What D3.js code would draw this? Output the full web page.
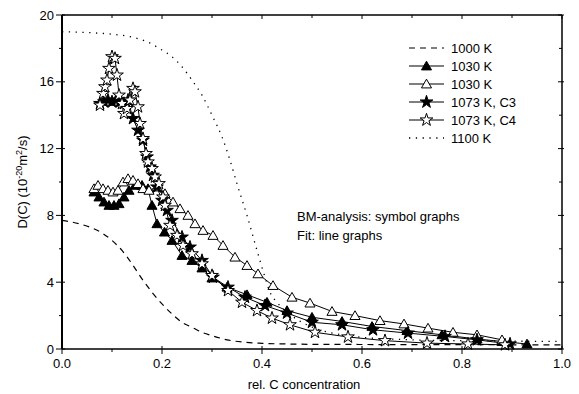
<!DOCTYPE html>
<html><head><meta charset="utf-8">
<script src="https://cdn.jsdelivr.net/npm/d3@7"></script>
<style>body{margin:0;background:#fff}svg{display:block;font-family:"Liberation Sans",Arial,sans-serif}</style>
</head><body><svg id="c" width="579" height="394"></svg>
<script>
// ---- data ----
const xTicks = [0.0,0.2,0.4,0.6,0.8,1.0];
const yTicks = [0,4,8,12,16,20];

const fit1000x = [0,0.02,0.04,0.06,0.08,0.1,0.12,0.14,0.16,0.18,0.2,0.22,0.24,0.26,0.28,0.3,0.33,0.36,0.4,0.45,0.5,0.6,0.7,0.8,0.9,1.0];
const fit1000y = [7.7,7.6,7.45,7.25,6.95,6.5,5.9,5.1,4.2,3.4,2.7,2.1,1.6,1.3,1.0,0.8,0.55,0.42,0.34,0.3,0.28,0.27,0.26,0.26,0.25,0.25];

const fit1100x = [0,0.05,0.1,0.136,0.17,0.2,0.22,0.24,0.26,0.28,0.3,0.32,0.336,0.352,0.37,0.39,0.406,0.416,0.43,0.45,0.48,0.52,0.56,0.6,0.7,0.8,0.9,1.0];
const fit1100y = [19,18.95,18.85,18.7,18.4,17.9,17.5,16.9,16.1,15.2,14.0,12.7,11.3,9.7,8.0,5.9,4.3,3.4,2.8,2.2,1.6,1.1,0.85,0.7,0.55,0.5,0.47,0.45];

const tri1x = [0.064,0.074,0.084,0.094,0.104,0.114,0.124,0.134,0.146,0.160,0.172,0.18,0.19,0.205,0.22,0.24,0.26,0.28,0.30,0.33,0.37,0.41,0.45,0.50,0.56,0.62,0.69,0.76,0.83,0.88,0.93];
const tri1y = [9.4,9.1,8.8,8.6,8.6,8.7,9.1,9.5,9.8,9.8,9.6,8.6,7.5,7.0,6.5,5.6,5.3,4.85,4.25,3.7,3.25,2.8,2.3,1.9,1.65,1.35,1.1,0.85,0.6,0.45,0.3];

const tri2x = [0.064,0.072,0.082,0.092,0.102,0.112,0.122,0.132,0.142,0.152,0.162,0.174,0.19,0.206,0.222,0.236,0.252,0.266,0.282,0.302,0.322,0.346,0.37,0.392,0.422,0.46,0.496,0.54,0.586,0.636,0.684,0.732,0.782,0.83,0.88];
const tri2y = [9.6,9.8,9.6,9.5,9.4,9.5,10.0,10.2,10.1,9.9,9.6,9.5,9.7,9.3,8.8,8.4,8.0,7.5,7.1,6.8,6.2,5.5,5.0,4.5,3.8,3.1,2.75,2.25,2.0,1.7,1.5,1.25,1.0,0.85,0.55];

const star3x = [0.076,0.084,0.092,0.1,0.108,0.116,0.124,0.132,0.142,0.152,0.162,0.17,0.176,0.182,0.19,0.2,0.21,0.22,0.24,0.256,0.28,0.302,0.332,0.366,0.406,0.45,0.5,0.56,0.622,0.692,0.766,0.83,0.896];
const star3y = [14.7,14.8,14.9,14.8,14.9,14.8,14.7,14.9,13.8,13.1,12.5,11.5,10.9,10.4,9.7,8.9,8.3,7.7,6.7,6.1,5.3,4.3,3.7,3.1,2.6,2.15,1.6,1.45,1.15,0.95,0.75,0.55,0.3];

const star4x = [0.076,0.082,0.086,0.09,0.094,0.1,0.106,0.11,0.114,0.12,0.124,0.13,0.136,0.142,0.146,0.152,0.156,0.162,0.168,0.172,0.18,0.186,0.194,0.202,0.206,0.216,0.23,0.242,0.26,0.28,0.30,0.332,0.36,0.39,0.42,0.456,0.506,0.572,0.646,0.73,0.812,0.886];
const star4y = [14.6,15.3,15.7,16.1,16.8,17.5,17.4,16.4,15.2,14.7,14.1,14.4,14.9,15.6,15.4,14.5,13.5,12.6,11.7,11.2,10.8,10.3,9.9,9.1,8.6,7.4,6.8,6.2,5.7,5.1,4.4,3.5,2.8,2.3,1.85,1.45,1.0,0.72,0.5,0.35,0.3,0.25];

const legendLabels = ["1000 K","1030 K","1030 K","1073 K, C3","1073 K, C4","1100 K"];

// ---- layout ----
const svg = d3.select("#c");
const L=62, R=562, T=15, B=349;
const x = d3.scaleLinear().domain([0,1]).range([L,R]);
const y = d3.scaleLinear().domain([0,20]).range([B,T]);

const zip = (xs,ys)=>xs.map((v,i)=>[v,ys[i]]);
const line = d3.line().x(d=>x(d[0])).y(d=>y(d[1]));
const sline = d3.line().x(d=>x(d[0])).y(d=>y(d[1])).curve(d3.curveMonotoneX);

// fits
svg.append("path").attr("d",sline(zip(fit1000x,fit1000y))).attr("fill","none").attr("stroke","#000").attr("stroke-width",1.2).attr("stroke-dasharray","6,5");
svg.append("path").attr("d",sline(zip(fit1100x,fit1100y))).attr("fill","none").attr("stroke","#000").attr("stroke-width",1.3).attr("stroke-dasharray","1.3,5.5");

const triSym = d3.symbol().type(d3.symbolTriangle).size(44);
const starSym = d3.symbol().type(d3.symbolStar).size(50);

const series = [
  {xs:tri1x, ys:tri1y, sym:triSym, fill:"#000"},
  {xs:tri2x, ys:tri2y, sym:triSym, fill:"#fff"},
  {xs:star3x, ys:star3y, sym:starSym, fill:"#000"},
  {xs:star4x, ys:star4y, sym:starSym, fill:"#fff"},
];
series.forEach(s=>{
  const pts = zip(s.xs,s.ys);
  svg.append("path").attr("d",line(pts)).attr("fill","none").attr("stroke","#000").attr("stroke-width",1);
});
series.forEach(s=>{
  const pts = zip(s.xs,s.ys);
  svg.append("g").selectAll("path").data(pts).join("path")
    .attr("transform",d=>`translate(${x(d[0])},${y(d[1])+ (s.sym===triSym?1:0)})`)
    .attr("d",s.sym()).attr("fill",s.fill).attr("stroke","#000").attr("stroke-width",1);
});

// axes
const ax = svg.append("g").attr("stroke","#000");
ax.append("line").attr("x1",L).attr("x2",L).attr("y1",T).attr("y2",B).attr("stroke-width",2);
ax.append("line").attr("x1",L).attr("x2",R).attr("y1",B).attr("y2",B).attr("stroke-width",1.5);
ax.append("line").attr("x1",L).attr("x2",R).attr("y1",T).attr("y2",T).attr("stroke-width",1.5);
ax.append("line").attr("x1",R).attr("x2",R).attr("y1",T).attr("y2",B).attr("stroke-width",1.5);

const xMinor = d3.range(0,1.0001,0.1);
const yMinor = d3.range(0,20.001,2);
xMinor.forEach((v,i)=>{
  const major = i%2===0;
  ax.append("line").attr("x1",x(v)).attr("x2",x(v)).attr("y1",B-(major?3:0)).attr("y2",B+(major?5:3)).attr("stroke-width",1);
  ax.append("line").attr("x1",x(v)).attr("x2",x(v)).attr("y1",T).attr("y2",T+(major?4:3)).attr("stroke-width",1);
});
yMinor.forEach((v,i)=>{
  const major = i%2===0;
  ax.append("line").attr("x1",L-(major?6:3)).attr("x2",L+(major?3:0)).attr("y1",y(v)).attr("y2",y(v)).attr("stroke-width",1);
  ax.append("line").attr("x1",R-(major?4:3)).attr("x2",R+(major?2:0)).attr("y1",y(v)).attr("y2",y(v)).attr("stroke-width",1);
});

svg.append("g").selectAll("text").data(xTicks).join("text")
  .attr("x",d=>x(d)).attr("y",B+19).attr("text-anchor","middle").attr("font-size",13).text(d=>d.toFixed(1));
svg.append("g").selectAll("text").data(yTicks).join("text")
  .attr("x",L-8).attr("y",d=>y(d)+4.5).attr("text-anchor","end").attr("font-size",13).text(d=>d);

svg.append("text").attr("x",(L+R)/2+(-8)).attr("y",389).attr("text-anchor","middle").attr("font-size",13).text("rel. C concentration");

const yl = svg.append("text").attr("transform",`translate(27,${(T+B)/2}) rotate(-90)`).attr("text-anchor","middle").attr("font-size",13);
yl.append("tspan").text("D(C) (10");
yl.append("tspan").attr("dy",-5).attr("font-size",9).text("-20");
yl.append("tspan").attr("dy",5).text("m");
yl.append("tspan").attr("dy",-5).attr("font-size",9).text("2");
yl.append("tspan").attr("dy",5).text("/s)");

// annotation
svg.append("text").attr("x",297).attr("y",221).attr("font-size",13).text("BM-analysis: symbol graphs");
svg.append("text").attr("x",297).attr("y",240).attr("font-size",13).text("Fit: line graphs");

// legend
const lg = svg.append("g");
const ly0 = 48, ldy = 18, lx1 = 409, lx2 = 447;
legendLabels.forEach((lab,i)=>{
  const yy = ly0 + i*ldy;
  const ln = lg.append("line").attr("x1",lx1).attr("x2",lx2-3).attr("y1",yy).attr("y2",yy).attr("stroke","#000").attr("stroke-width",1.2);
  if(i===0) ln.attr("stroke-dasharray","6,5");
  if(i===5) ln.attr("stroke-dasharray","1.3,5.5").attr("stroke-width",1.3);
  if(i>=1 && i<=4){
    const s = series[i-1];
    lg.append("path").attr("transform",`translate(${(lx1+lx2-3)/2},${yy+(s.sym===triSym?1:0)})`).attr("d",s.sym()).attr("fill",s.fill).attr("stroke","#000");
  }
  lg.append("text").attr("x",lx2+4).attr("y",yy+4.5).attr("font-size",13).text(lab);
});
</script></body></html>
